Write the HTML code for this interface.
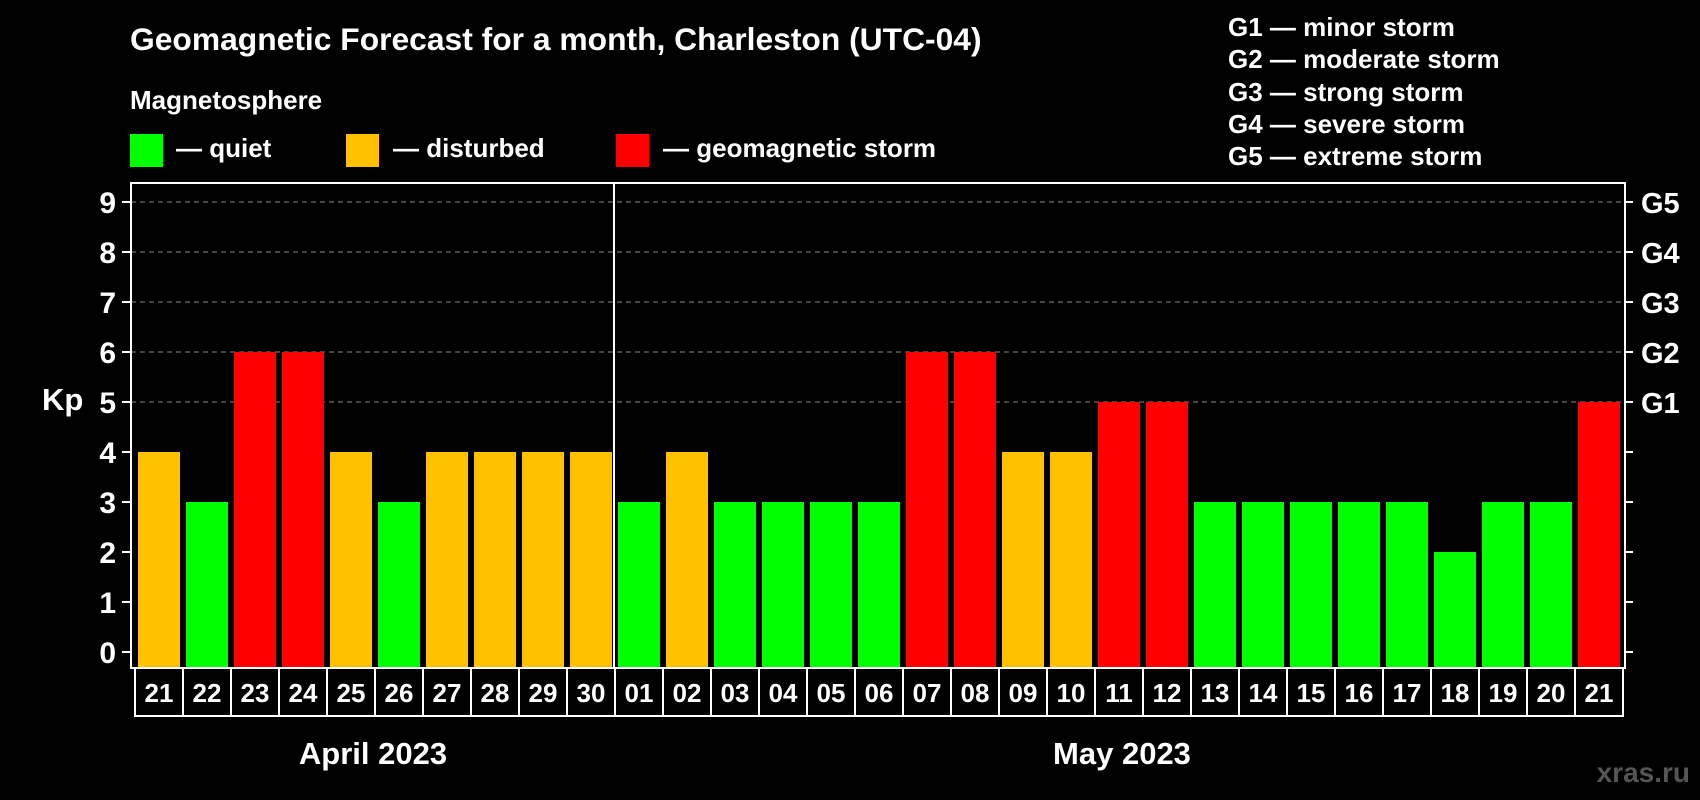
<!DOCTYPE html>
<html><head><meta charset="utf-8"><style>
body{margin:0;background:#000;}
svg{display:block;font-family:"Liberation Sans",sans-serif;font-weight:bold;}
</style></head><body>
<svg width="1700" height="800" xmlns="http://www.w3.org/2000/svg">
<rect width="1700" height="800" fill="#000"/>
<text x="130" y="50" fill="#fff" font-size="31.8">Geomagnetic Forecast for a month, Charleston (UTC-04)</text>
<text x="130" y="109" fill="#fff" font-size="26">Magnetosphere</text>
<g><rect x="130" y="134" width="33" height="33" fill="#00ff00"/><text x="176" y="157" fill="#fff" font-size="26">— quiet</text></g>
<g><rect x="346" y="134" width="33" height="33" fill="#ffc000"/><text x="393" y="157" fill="#fff" font-size="26">— disturbed</text></g>
<g><rect x="616" y="134" width="33" height="33" fill="#ff0000"/><text x="663" y="157" fill="#fff" font-size="26">— geomagnetic storm</text></g>
<g fill="#fff" font-size="26">
<text x="1228" y="36">G1 — minor storm</text>
<text x="1228" y="68">G2 — moderate storm</text>
<text x="1228" y="101">G3 — strong storm</text>
<text x="1228" y="133">G4 — severe storm</text>
<text x="1228" y="165">G5 — extreme storm</text>
</g>
<text x="42" y="410" fill="#fff" font-size="31">Kp</text>
<text x="373" y="764" fill="#fff" font-size="31" text-anchor="middle">April 2023</text>
<text x="1122" y="764" fill="#fff" font-size="31" text-anchor="middle">May 2023</text>
<text x="1690" y="782" fill="#555" font-size="28" text-anchor="end">xras.ru</text>
<g id="plot"></g>
</svg>
<script>
const days=["21","22","23","24","25","26","27","28","29","30","01","02","03","04","05","06","07","08","09","10","11","12","13","14","15","16","17","18","19","20","21"];
const kp=[4,3,6,6,4,3,4,4,4,4,3,4,3,3,3,3,6,6,4,4,5,5,3,3,3,3,3,2,3,3,5];
const yTicks=[0,1,2,3,4,5,6,7,8,9];
const gLabels=[[5,"G1"],[6,"G2"],[7,"G3"],[8,"G4"],[9,"G5"]];
(function(){
const NS="http://www.w3.org/2000/svg";
const g=document.getElementById('plot');
const yS=v=>652-50*v, x0=135, slot=48, pL=131, pR=1625, pT=183, pB=668;
function mk(t,a){const e=document.createElementNS(NS,t);for(const k in a)e.setAttribute(k,a[k]);g.appendChild(e);return e;}
yTicks.forEach(v=>{
 if(v>=5){const gl=mk('line',{x1:pL,x2:pR,y1:yS(v),y2:yS(v),stroke:'#888','stroke-dasharray':'5,4'});
 
 }
 mk('line',{x1:122,x2:pL,y1:yS(v),y2:yS(v),stroke:'#fff','stroke-width':2});
 mk('line',{x1:pR,x2:1633,y1:yS(v),y2:yS(v),stroke:'#fff','stroke-width':2});
 const t=mk('text',{x:116,y:yS(v)+11,fill:'#fff','font-size':30,'text-anchor':'end'});t.textContent=v;
 
 
});
gLabels.forEach(([v,l])=>{const t=mk('text',{x:1641,y:yS(v)+11,fill:'#fff','font-size':29});t.textContent=l;
 
 });
kp.forEach((v,i)=>{
 const c=v>=5?'#ff0000':(v==4?'#ffc000':'#00ff00');
 const r=mk('rect',{x:x0+slot*i+3,y:yS(v),width:42,height:pB-yS(v),fill:c});
 
 
 mk('rect',{x:x0+slot*i,y:pB,width:slot,height:48,fill:'none',stroke:'#fff','stroke-width':2});
 const t=mk('text',{x:x0+slot*i+24,y:pB+34,fill:'#fff','font-size':26,'text-anchor':'middle'});t.textContent=days[i];
 
 
});
const dv=mk('line',{x1:x0+slot*10-1,x2:x0+slot*10-1,y1:pT,y2:pB,stroke:'#fff','stroke-width':2});


const fr=mk('rect',{x:pL,y:pT,width:pR-pL,height:pB-pT,fill:'none',stroke:'#fff','stroke-width':2});


})();
</script>
</body></html>
